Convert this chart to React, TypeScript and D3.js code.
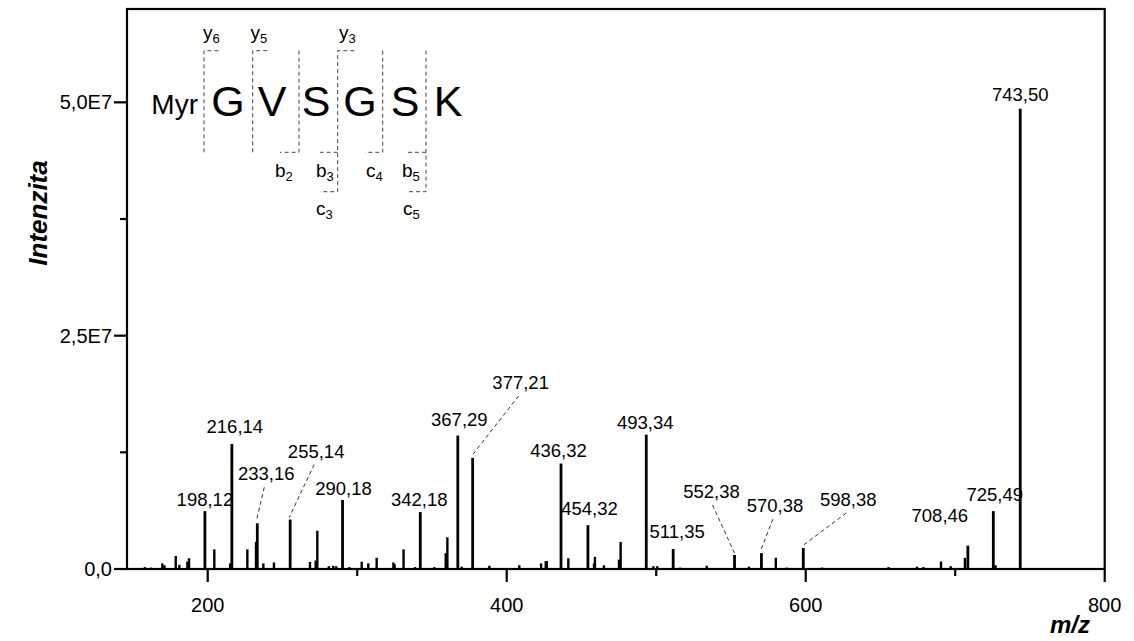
import React from "react";
import * as d3 from "d3";

// ---- spectrum data (m/z, intensity) ----
const labelledMz = [198.12, 216.14, 233.16, 255.14, 290.18, 342.18, 367.29, 377.21, 436.32, 454.32, 493.34, 511.35, 552.38, 570.38, 598.38, 708.46, 725.49, 743.5];
const labelledIntensity = [6.2e6, 1.34e7, 4.9e6, 5.3e6, 7.4e6, 6.1e6, 1.43e7, 1.19e7, 1.13e7, 4.7e6, 1.44e7, 2.14e6, 1.5e6, 1.7e6, 2.25e6, 2.5e6, 6.2e6, 4.93e7];

const minorMz = [158, 162, 169.6, 171, 178.6, 181, 186.4, 187.5, 204.4, 215, 226.5, 232.3, 237.2, 244.3, 268.4, 272.2, 273.3, 281, 284, 286, 294.7, 303, 307.4, 313, 324.2, 325, 331, 338.7, 351.6, 359.2, 360.3, 369.9, 388.4, 408.4, 423, 426.1, 426.8, 441.2, 458.4, 459, 465, 475.1, 476.2, 498.1, 500.7, 516, 533.8, 562, 580, 587.3, 611, 625, 655.4, 674.4, 678.7, 690.5, 697, 706.5, 727];
const minorIntensity = [0.2e6, 0.15e6, 0.6e6, 0.4e6, 1.4e6, 0.45e6, 0.8e6, 1.15e6, 2.1e6, 0.6e6, 2.1e6, 2.9e6, 0.6e6, 0.7e6, 0.75e6, 0.9e6, 4.1e6, 0.3e6, 0.35e6, 0.3e6, 0.2e6, 0.78e6, 0.6e6, 1.2e6, 0.7e6, 0.5e6, 2.1e6, 0.2e6, 0.2e6, 1.7e6, 3.4e6, 0.25e6, 0.35e6, 0.4e6, 0.6e6, 0.85e6, 0.85e6, 1.15e6, 0.6e6, 1.3e6, 0.4e6, 1.0e6, 2.9e6, 0.3e6, 0.3e6, 0.15e6, 0.35e6, 0.25e6, 1.2e6, 0.15e6, 0.15e6, 0.1e6, 0.2e6, 0.25e6, 0.2e6, 0.8e6, 0.3e6, 1.2e6, 0.4e6];

// ---- axes ----
const mzDomain = [146, 800];
const intensityDomain = [0, 6e7];
const xTicks = [200, 400, 600, 800];
const xMinorTicks = [300, 500, 700];
const yTicks = [0, 2.5e7, 5e7];
const yTickLabels = ["0,0", "2,5E7", "5,0E7"];
const yMinorTicks = [1.25e7, 3.75e7];

// ---- peptide sequence ----
const residues = ["G", "V", "S", "G", "S", "K"];

// label placement relative to each labelled peak top: [dx, dy, leader]
const labelPlacement: [number, number, boolean][] = [
  [0, -5, false],
  [3, -11, false],
  [9, -43, true],
  [26, -62, true],
  [1, -5, false],
  [-1, -6, false],
  [1.5, -10, false],
  [48, -69, true],
  [-2.5, -7, false],
  [1.5, -10, false],
  [-1, -6, false],
  [4, -11, false],
  [-23, -57, true],
  [13.5, -41, true],
  [45, -42, true],
  [-28, -24, false],
  [1.5, -10, false],
  [0, -8, false],
];

const FONT = "'Liberation Sans', Arial, sans-serif";
const W = 1134;
const H = 641;
const plot = { left: 127, right: 1104.7, top: 9, bottom: 569 };

const fmt = (v: number) => v.toFixed(2).replace(".", ",");

function PeptideMap() {
  const st = { stroke: "#444", strokeWidth: 1, strokeDasharray: "4,3", fill: "none" };
  const top = 50.7;
  const mid = 152.3;
  const low = 191.7;
  const residueX = [228, 272, 316, 360, 405, 448];
  const ion = (x: number, y: number, base: string, sub: string) => (
    <text x={x} y={y} fontFamily={FONT} fontSize={19} fill="#000">
      {base}
      <tspan fontSize={13} dy={4}>{sub}</tspan>
    </text>
  );
  return (
    <g>
      <text x={198} y={114} textAnchor="end" fontFamily={FONT} fontSize={28}>Myr</text>
      {residues.map((r, i) => (
        <text key={i} x={residueX[i]} y={116} textAnchor="middle" fontFamily={FONT} fontSize={43}>{r}</text>
      ))}
      {/* y6 */}
      <path d={`M204,${mid} V${top} H221`} style={st} />
      {/* y5 */}
      <path d={`M252.7,${mid} V${top} H269`} style={st} />
      {/* b2 */}
      <path d={`M299,${top} V${mid} H280`} style={st} />
      {/* y3 / b3 / c3 */}
      <path d={`M354.3,${top} H337.7 V${low} H320`} style={st} />
      <path d={`M337.7,${mid} H320`} style={st} />
      {/* c4 */}
      <path d={`M382.7,${top} V${mid} H365`} style={st} />
      {/* b5 / c5 */}
      <path d={`M426,${top} V${low} H408`} style={st} />
      <path d={`M426,${mid} H408`} style={st} />
      {ion(203, 39, "y", "6")}
      {ion(250.5, 39, "y", "5")}
      {ion(339, 39, "y", "3")}
      {ion(275, 177, "b", "2")}
      {ion(316, 177, "b", "3")}
      {ion(366, 177, "c", "4")}
      {ion(402, 177, "b", "5")}
      {ion(316, 215, "c", "3")}
      {ion(403, 215, "c", "5")}
    </g>
  );
}

export default function App() {
  const x = d3.scaleLinear().domain(mzDomain).range([plot.left, plot.right]);
  const y = d3.scaleLinear().domain(intensityDomain).range([plot.bottom, plot.top]);

  return (
    <svg width={W} height={H} viewBox={`0 0 ${W} ${H}`} style={{ position: "absolute", left: 0, top: 0, background: "#fff" }}>
      <rect x={0} y={0} width={W} height={H} fill="#fff" />
      {/* minor peaks */}
      {minorMz.map((m, i) => (
        <line key={"m" + i} x1={x(m)} x2={x(m)} y1={y(0)} y2={y(minorIntensity[i])} stroke="#000" strokeWidth={2.4} />
      ))}
      {/* labelled peaks */}
      {labelledMz.map((m, i) => (
        <line key={"p" + i} x1={x(m)} x2={x(m)} y1={y(0)} y2={y(labelledIntensity[i])} stroke="#000" strokeWidth={2.8} />
      ))}
      {/* peak labels */}
      {labelledMz.map((m, i) => {
        const [dx, dy, leader] = labelPlacement[i];
        const px = x(m);
        const py = y(labelledIntensity[i]);
        const lx = px + dx;
        const ly = py + dy;
        return (
          <g key={"l" + i}>
            <text x={lx} y={ly} textAnchor="middle" fontFamily={FONT} fontSize={18.5} fill="#000">{fmt(m)}</text>
            {leader && (
              <line x1={lx + (dx > 0 ? -2 : 1)} y1={ly + 7} x2={px + (dx > 0 ? -1 : 0)} y2={py - 2} stroke="#333" strokeWidth={1} strokeDasharray="4,3" />
            )}
          </g>
        );
      })}
      {/* frame */}
      <rect x={plot.left} y={plot.top} width={plot.right - plot.left} height={plot.bottom - plot.top} fill="none" stroke="#000" strokeWidth={2.2} />
      {/* x axis ticks */}
      {xTicks.map((t) => (
        <g key={"xt" + t}>
          <line x1={x(t)} x2={x(t)} y1={plot.bottom} y2={plot.bottom + 13} stroke="#000" strokeWidth={2.2} />
          <text x={x(t)} y={612} textAnchor="middle" fontFamily={FONT} fontSize={20}>{t}</text>
        </g>
      ))}
      {xMinorTicks.map((t) => (
        <line key={"xm" + t} x1={x(t)} x2={x(t)} y1={plot.bottom} y2={plot.bottom + 7} stroke="#000" strokeWidth={2.2} />
      ))}
      {/* y axis ticks */}
      {yTicks.map((t, i) => (
        <g key={"yt" + t}>
          <line x1={plot.left - 13} x2={plot.left} y1={y(t)} y2={y(t)} stroke="#000" strokeWidth={2.2} />
          <text x={plot.left - 15} y={y(t) + 7} textAnchor="end" fontFamily={FONT} fontSize={20}>{yTickLabels[i]}</text>
        </g>
      ))}
      {yMinorTicks.map((t) => (
        <line key={"ym" + t} x1={plot.left - 7} x2={plot.left} y1={y(t)} y2={y(t)} stroke="#000" strokeWidth={2.2} />
      ))}
      {/* axis titles */}
      <text x={1070} y={633} textAnchor="middle" fontFamily={FONT} fontSize={24} fontWeight="bold" fontStyle="italic">m/z</text>
      <text transform="translate(47,213) rotate(-90)" textAnchor="middle" fontFamily={FONT} fontSize={26} fontWeight="bold" fontStyle="italic">Intenzita</text>
      <PeptideMap />
    </svg>
  );
}
